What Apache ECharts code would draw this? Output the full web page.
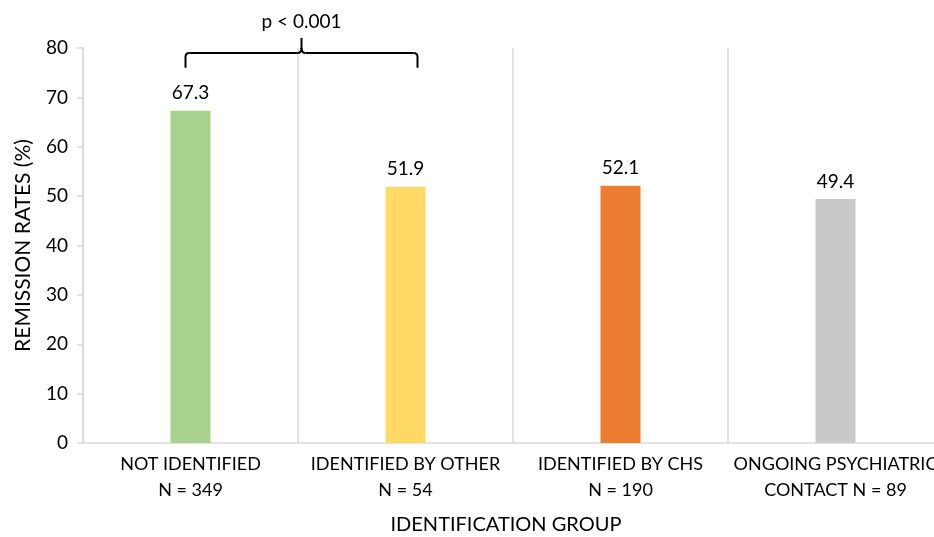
<!DOCTYPE html>
<html>
<head>
<meta charset="utf-8">
<script src="https://cdn.jsdelivr.net/npm/echarts@6/dist/echarts.min.js"></script>
<style>html,body{margin:0;padding:0;background:#fff}#c{width:934px;height:537px}</style>
</head>
<body>
<div id="c"></div>
<script>
const categories = ["NOT IDENTIFIED\nN = 349", "IDENTIFIED BY OTHER\nN = 54", "IDENTIFIED BY CHS\nN = 190", "ONGOING PSYCHIATRIC\nCONTACT N = 89"];
const remissionRates = [67.3, 51.9, 52.1, 49.4];
const barColors = ["#A9D18E", "#FFD966", "#ED7D31", "#C9C9C9"];
const yTicks = [0, 10, 20, 30, 40, 50, 60, 70, 80];
const pText = "p < 0.001";

const FONT = "Lato";
const chart = echarts.init(document.getElementById('c'), null, {renderer: 'canvas'});
chart.setOption({
  animation: false,
  textStyle: {fontFamily: FONT},
  grid: {left: 83, right: -9, top: 48, bottom: 94, containLabel: false, outerBoundsMode: 'none'},
  xAxis: {
    type: 'category',
    data: categories,
    name: 'IDENTIFICATION GROUP',
    nameLocation: 'middle',
    nameGap: 72,
    nameTextStyle: {fontFamily: FONT, fontSize: 20, color: '#000', padding: [0, 14, 0, 0]},
    axisLine: {show: true, lineStyle: {color: '#D9D9D9', width: 1.5}},
    axisTick: {show: false},
    splitLine: {show: true, lineStyle: {color: '#D9D9D9', width: 1.5}},
    axisLabel: {fontFamily: FONT, fontSize: 18, color: '#000', lineHeight: 26, margin: 8, interval: 0}
  },
  yAxis: {
    type: 'value',
    min: yTicks[0],
    max: yTicks[yTicks.length - 1],
    interval: 10,
    name: 'REMISSION RATES (%)',
    nameLocation: 'middle',
    nameGap: 49,
    nameRotate: 90,
    nameTextStyle: {fontFamily: FONT, fontSize: 21, color: '#000'},
    axisLine: {show: true, lineStyle: {color: '#D9D9D9', width: 1.5}},
    axisTick: {show: true, length: 6, lineStyle: {color: '#D9D9D9', width: 1.5}},
    splitLine: {show: false},
    axisLabel: {fontFamily: FONT, fontSize: 19, color: '#000', margin: 15}
  },
  series: [{
    type: 'bar',
    barWidth: 40,
    data: remissionRates.map((v, i) => ({value: v, itemStyle: {color: barColors[i]}})),
    label: {show: true, position: 'top', distance: 8, fontFamily: FONT, fontSize: 19, color: '#000',
      formatter: p => p.value.toFixed(1)}
  }]
});

// significance bracket between group 0 and group 1
const xL = chart.convertToPixel({xAxisIndex: 0}, 0) - 5;
const xR = chart.convertToPixel({xAxisIndex: 0}, 1) + 12;
const xM = (xL + xR) / 2;
const yH = chart.convertToPixel({yAxisIndex: 0}, 79);
const yE = chart.convertToPixel({yAxisIndex: 0}, 76);
const yT = yH - 15;
const ls = {stroke: '#000', lineWidth: 2, fill: null};
function q(x1, y1, cx, cy, x2, y2) {
  return {type: 'bezierCurve', shape: {x1: x1, y1: y1, cpx1: cx, cpy1: cy, x2: x2, y2: y2}, style: ls};
}
function pl(pts) { return {type: 'polyline', shape: {points: pts}, style: ls}; }
chart.setOption({
  graphic: [
    pl([[xL, yE], [xL, yH + 4]]),
    q(xL, yH + 4, xL, yH, xL + 4, yH),
    pl([[xL + 4, yH], [xM - 4, yH]]),
    q(xM - 4, yH, xM, yH, xM, yH - 5),
    pl([[xM, yH - 5], [xM, yT]]),
    q(xM, yH - 5, xM, yH, xM + 4, yH),
    pl([[xM + 4, yH], [xR - 4, yH]]),
    q(xR - 4, yH, xR, yH, xR, yH + 4),
    pl([[xR, yH + 4], [xR, yE]]),
    {type: 'text', x: xM, y: yT - 16, style: {text: pText, fontFamily: FONT, fontSize: 19, fill: '#000', align: 'center', verticalAlign: 'middle'}}
  ]
});
</script>
</body>
</html>
